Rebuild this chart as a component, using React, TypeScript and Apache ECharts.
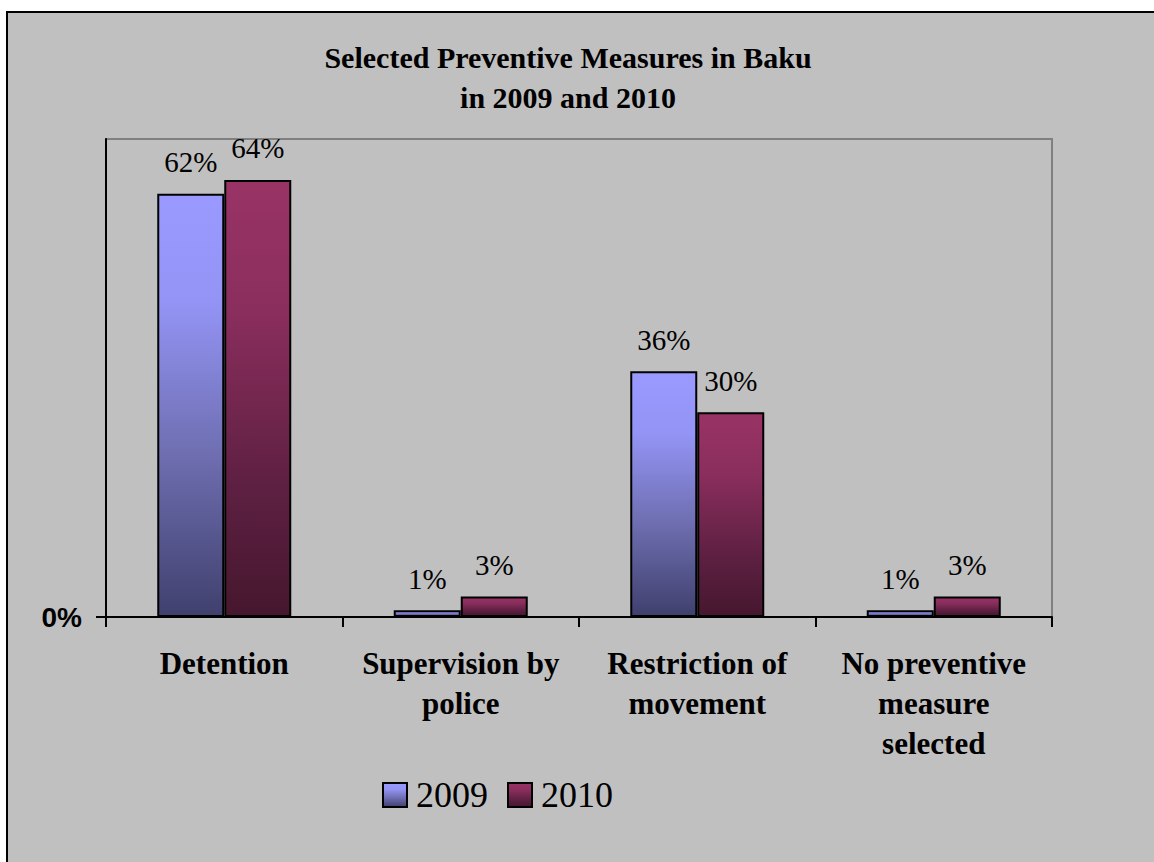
import React, { useEffect, useRef } from "react";
import * as echarts from "echarts";

const titleLines = ["Selected Preventive Measures in Baku", "in 2009 and 2010"];
const categories = [
  "Detention",
  "Supervision by\npolice",
  "Restriction of\nmovement",
  "No preventive\nmeasure\nselected",
];
const seriesNames = ["2009", "2010"];
const values2009 = [62, 1, 36, 1];
const values2010 = [64, 3, 30, 3];
const yMin = 0;
const yMax = 70;
const yTickValues = [0];

const serif = "Liberation Serif";
const sans = "Liberation Sans";

const grad2009 = new echarts.graphic.LinearGradient(0, 0, 0, 1, [
  { offset: 0, color: "#9999FF" },
  { offset: 0.25, color: "#9494F6" },
  { offset: 0.6, color: "#7070B4" },
  { offset: 1, color: "#40406E" },
]);
const grad2010 = new echarts.graphic.LinearGradient(0, 0, 0, 1, [
  { offset: 0, color: "#993366" },
  { offset: 0.3, color: "#8A2E5D" },
  { offset: 0.7, color: "#5E2042" },
  { offset: 1, color: "#46172E" },
]);

export default function App() {
  const ref = useRef<HTMLDivElement>(null);
  useEffect(() => {
    if (!ref.current) return;
    const chart = echarts.init(ref.current, null, { renderer: "svg" });
    const labelStyle = {
      show: true,
      position: "top",
      distance: 17,
      formatter: "{c}%",
      fontFamily: serif,
      fontSize: 29,
      color: "#000",
    };
    chart.setOption({
      animation: false,
      backgroundColor: "transparent",
      graphic: [
        {
          type: "rect",
          z: -10,
          shape: { x: 7, y: 12, width: 1200, height: 900 },
          style: { fill: "#C0C0C0", stroke: "#000", lineWidth: 2 },
        },
      ],
      title: {
        text: titleLines.join("\n"),
        left: 568,
        top: 37,
        textAlign: "center",
        padding: 0,
        textStyle: {
          fontFamily: serif,
          fontWeight: "bold",
          fontSize: 30,
          lineHeight: 40,
          color: "#000",
        },
      },
      legend: {
        data: seriesNames,
        left: 382,
        top: 777,
        padding: 0,
        itemWidth: 24,
        itemHeight: 24,
        itemGap: 19,
        icon: "rect",
        textStyle: {
          fontFamily: serif,
          fontSize: 36,
          color: "#000",
          padding: [0, 0, 0, 4],
        },
      },
      grid: {
        left: 106,
        right: 102,
        top: 139,
        bottom: 245,
        show: true,
        borderColor: "#808080",
        borderWidth: 2,
        backgroundColor: "transparent",
      },
      xAxis: {
        type: "category",
        data: categories,
        axisLine: { lineStyle: { color: "#000", width: 2 } },
        axisTick: { show: true, length: 10, lineStyle: { color: "#000", width: 2 } },
        axisLabel: {
          margin: 26,
          interval: 0,
          fontFamily: serif,
          fontWeight: "bold",
          fontSize: 31,
          lineHeight: 40,
          color: "#000",
        },
      },
      yAxis: {
        type: "value",
        min: yMin,
        max: yMax,
        splitLine: { show: false },
        axisLine: { show: true, lineStyle: { color: "#000", width: 2 } },
        axisTick: { show: true, length: 10, customValues: yTickValues, lineStyle: { color: "#000", width: 2 } },
        axisLabel: {
          customValues: yTickValues,
          formatter: "{value}%",
          margin: 24,
          fontFamily: sans,
          fontWeight: "bold",
          fontSize: 28,
          color: "#000",
        },
      },
      series: [
        {
          name: seriesNames[0],
          type: "bar",
          data: values2009,
          barWidth: 67,
          barGap: "0%",
          itemStyle: { color: grad2009, borderColor: "#000", borderWidth: 2 },
          label: labelStyle,
        },
        {
          name: seriesNames[1],
          type: "bar",
          data: values2010,
          barWidth: 67,
          barGap: "0%",
          itemStyle: { color: grad2010, borderColor: "#000", borderWidth: 2 },
          label: labelStyle,
        },
      ],
    });
    return () => chart.dispose();
  }, []);
  return (
    <div
      ref={ref}
      style={{ position: "absolute", left: 0, top: 0, width: 1154, height: 862 }}
    />
  );
}
